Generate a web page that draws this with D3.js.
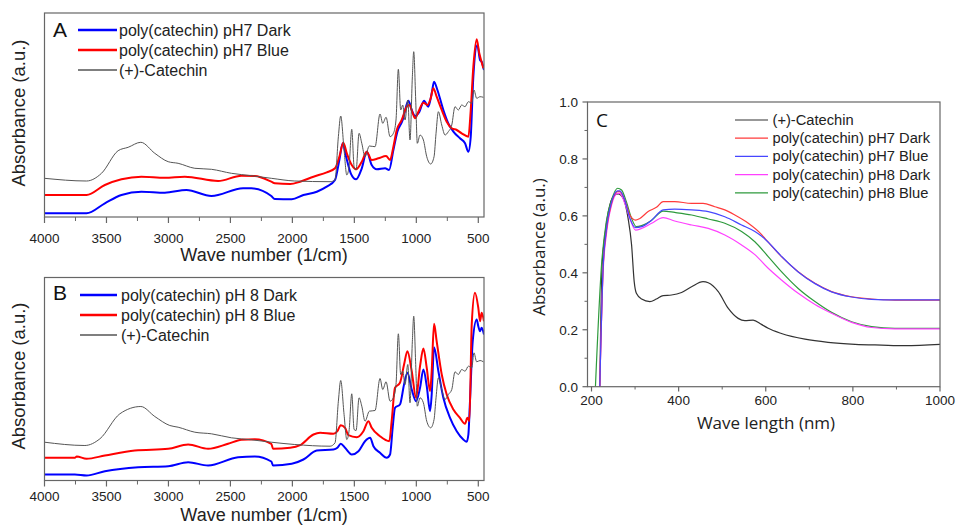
<!DOCTYPE html>
<html>
<head>
<meta charset="utf-8">
<script src="https://cdn.jsdelivr.net/npm/d3@7"></script>
<style>
body{margin:0;background:#fff;}
text{font-family:"Liberation Sans",Arial,sans-serif;}
</style>
</head>
<body>
<svg id="chart" width="957" height="526"></svg>
<script>
// ---- data ----
// FTIR: [wave number 1/cm, absorbance a.u.]
var wnTicks=[4000,3500,3000,2500,2000,1500,1000,500];
var wnMinor=[3750,3250,2750,2250,1750,1250,750];

var catechinA=[[4000,38.7],[3661,36],[3540,43.7],[3406,66.3],[3325,69.7],[3223,74.7],[3110,63.7],[3002,55.3],[2922,53.7],[2787,48.7],[2653,47.7],[2492,43.7],[2331,41.3],[2170,38.7],[1981,36],[1696,35.3],[1656,37],[1629,80.3],[1610,101],[1583,67],[1561,42],[1543,50.3],[1521,87.7],[1502,50.3],[1486,47],[1462,83.7],[1440,73.7],[1414,60.3],[1379,71],[1333,70.3],[1293,103],[1271,93.7],[1244,99.7],[1212,80.3],[1185,83.7],[1164,97],[1145,147.7],[1126,107],[1110,112],[1091,97],[1069,117],[1051,77],[1032,140.3],[1021,165.3],[1005,117],[992,73.7],[970,82],[943,77],[916,60.3],[884,53],[857,60.3],[841,83.7],[822,105.3],[795,92],[768,82],[742,85.3],[714,92],[688,110.3],[661,107],[634,112],[607,110.3],[580,115.3],[553,113.7],[535,127],[513,118.7],[486,120.3],[459,119.7]];
var pH7BlueA=[[4000,22],[3661,22],[3513,32],[3379,37.7],[3218,40.3],[3029,39.3],[2868,40.3],[2599,36],[2411,41.3],[2303,41],[2170,35.3],[2142,33.7],[2018,33],[1938,35.3],[1830,40.3],[1723,44.7],[1656,48.7],[1621,60.3],[1589,74.3],[1561,63.7],[1521,52],[1486,47.7],[1440,55.3],[1400,65.3],[1360,57],[1306,58.7],[1244,61],[1212,57],[1185,70.3],[1158,87],[1118,97],[1077,110.3],[1056,112],[1029,103.7],[1010,98.7],[983,105.3],[943,114.3],[911,112],[884,118.7],[863,128.7],[836,120.3],[795,107],[755,95.3],[714,88.7],[674,87],[634,83.7],[580,80.3],[561,107],[540,150.3],[513,177.7],[492,163.7],[478,157],[459,148.7]];
var pH7DarkA=[[4000,3.7],[3661,3.7],[3513,13.7],[3379,22],[3218,25.3],[3029,24.3],[2855,27],[2653,21],[2398,28.7],[2331,28.7],[2170,21],[2142,18],[2005,17.7],[1911,22],[1803,25.3],[1723,30.3],[1656,37],[1621,57],[1594,73.7],[1567,60.3],[1529,43.7],[1486,37.7],[1440,48.7],[1400,65.3],[1360,52],[1319,47.7],[1252,48.7],[1220,47],[1185,67],[1153,85.3],[1110,97],[1083,110.3],[1064,116.3],[1037,107],[1010,101],[975,105.3],[938,116.3],[903,110.3],[876,123.7],[857,135.3],[830,127],[782,107],[742,93.7],[701,85.3],[648,78.7],[607,73.7],[580,65.3],[561,80.3],[540,140.3],[508,172],[486,157],[473,155.3],[454,147]];

var catechinB=[[4000,38.3],[3674,35],[3553,41.7],[3392,66.7],[3223,74],[3110,64],[2989,55],[2922,53.3],[2787,48.3],[2653,46.7],[2492,42.7],[2331,40.7],[2170,38.3],[1981,36],[1696,34.3],[1656,37.7],[1629,79.3],[1610,100],[1583,66],[1561,41],[1543,49.3],[1521,86.7],[1502,51],[1486,50],[1462,82.7],[1440,74.3],[1414,59.3],[1379,69.3],[1333,70],[1293,102],[1271,91],[1244,98.7],[1212,79.3],[1185,82.7],[1164,96],[1145,146.7],[1126,106],[1110,109.3],[1091,96],[1069,116],[1051,77.7],[1032,139.3],[1021,164.3],[1005,116],[992,74.3],[970,82.7],[943,77.7],[916,59.3],[884,52.7],[857,61],[841,82.7],[822,102.7],[795,91],[768,81],[742,86],[714,91],[688,108.7],[661,106],[634,111],[607,109.3],[580,114.3],[553,112.7],[535,127.7],[513,118.7],[486,120],[459,118.7]];
var pH8BlueB=[[4000,22.7],[3755,22.7],[3740,24],[3661,21.7],[3513,25],[3271,30],[3002,31.7],[2841,36],[2680,31.7],[2519,36.7],[2411,40.7],[2303,41.3],[2170,36.7],[2156,31.7],[2018,32.7],[1938,35.3],[1830,46],[1776,47.7],[1669,46.7],[1637,49.3],[1610,55.3],[1575,52.7],[1548,45.3],[1481,43.3],[1427,49.3],[1387,59.3],[1360,52.7],[1293,44.3],[1218,39.3],[1199,59.3],[1172,92.7],[1132,97.7],[1099,116],[1072,129.3],[1037,109.3],[1002,82.7],[970,114.3],[943,132],[916,112.7],[889,89.3],[876,109.3],[857,156.7],[836,139.3],[795,106],[755,86],[701,71],[648,62.7],[607,56.7],[588,62.7],[572,59.3],[553,156],[527,187.7],[500,172.7],[486,159.3],[473,167.7],[454,159.3]];
var pH8DarkB=[[4000,6],[3755,6],[3661,5],[3513,9.3],[3244,13.3],[3002,14.3],[2841,18.3],[2680,15],[2438,23.3],[2303,24],[2170,19],[2156,15],[2005,16.7],[1911,21],[1803,30],[1669,31],[1637,32.7],[1610,36.7],[1575,32.7],[1521,26],[1467,29.3],[1414,39.3],[1373,42.7],[1346,34.3],[1293,27.7],[1239,22.7],[1212,26],[1191,52.7],[1172,72.7],[1132,76],[1099,96],[1072,107.7],[1037,91],[1002,79.3],[970,92.7],[943,111],[916,94.3],[889,69.3],[876,86],[857,133.3],[822,109.3],[782,82.7],[728,62.7],[674,49.3],[621,41],[594,38.7],[580,46],[567,79.3],[545,139.3],[513,161],[500,154.3],[486,149.3],[473,152.7],[454,146]];

// UV-vis: [wave length nm, absorbance]
var wlTicks=[200,400,600,800,1000];
var wlMinor=[300,500,700,900];
var absTicks=[0,0.2,0.4,0.6,0.8,1.0];
var absMinor=[0.1,0.3,0.5,0.7,0.9];

var uvCatechin=[[219,0],[224,0.416],[231,0.533],[242,0.638],[253.5,0.673],[261,0.677],[272.6,0.662],[284,0.591],[292,0.498],[298,0.369],[303,0.328],[315,0.308],[334,0.299],[349,0.308],[364.5,0.320],[383.7,0.322],[406.7,0.331],[429.7,0.351],[456,0.369],[468,0.365],[491,0.334],[514,0.275],[536.7,0.240],[552,0.232],[571,0.234],[590,0.219],[605.6,0.205],[636,0.187],[690,0.167],[743,0.156],[805,0.149],[866,0.146],[919.6,0.144],[1000,0.149]];
var uvPH7Dark=[[219,0],[226.7,0.416],[234,0.545],[246,0.644],[259.7,0.685],[265,0.685],[276.5,0.656],[288,0.603],[301,0.585],[311,0.591],[330,0.615],[349,0.630],[364.5,0.650],[391,0.650],[429.7,0.644],[456,0.644],[483,0.632],[506,0.621],[529,0.603],[560,0.574],[590,0.535],[598,0.521],[636,0.457],[674.5,0.404],[713,0.363],[751,0.334],[797,0.316],[843,0.308],[896.6,0.304],[1000,0.304]];
var uvPH7Blue=[[219,0],[226.7,0.42],[234,0.55],[246,0.648],[259.7,0.688],[265,0.688],[276.5,0.655],[288,0.592],[301,0.559],[315,0.562],[338,0.585],[364.5,0.621],[391,0.624],[430,0.621],[468,0.615],[506,0.597],[544.5,0.568],[575,0.545],[590,0.529],[598,0.519],[636,0.458],[674.5,0.403],[713,0.362],[751,0.333],[797,0.315],[843,0.307],[896.6,0.305],[1000,0.305]];
var uvPH8Dark=[[219,0],[226.7,0.404],[234,0.533],[246,0.638],[260,0.679],[265,0.679],[276.5,0.644],[288,0.591],[301,0.550],[315,0.556],[338,0.574],[364.5,0.594],[391,0.582],[430,0.568],[468,0.556],[506,0.533],[544.5,0.498],[575,0.464],[605.6,0.416],[636,0.375],[674.5,0.328],[713,0.289],[751,0.258],[797,0.226],[843,0.208],[896.6,0.203],[1000,0.203]];
var uvPH8Blue=[[209,0],[223,0.427],[234,0.58],[246,0.656],[260,0.697],[269,0.691],[280,0.650],[292,0.591],[303,0.562],[315,0.566],[338,0.585],[364.5,0.617],[391,0.612],[430,0.603],[468,0.589],[506,0.574],[544.5,0.545],[575,0.509],[605.6,0.457],[636,0.404],[674.5,0.345],[713,0.299],[751,0.261],[797,0.228],[843,0.211],[896.6,0.205],[1000,0.205]];

var svg=d3.select('#chart');
var frameColor='#666';

// ---- FTIR panels A and B ----
function ftirPanel(p){
    var x=d3.scaleLinear().domain([4000,454]).range([44.5,484]);
    var y=d3.scaleLinear().domain([0,p.ymax]).range([p.bottom,p.top]);
    var g=svg.append('g');
    g.append('clipPath').attr('id','clip'+p.letter).append('rect')
        .attr('x',44.5).attr('y',p.top).attr('width',439.5).attr('height',p.bottom-p.top);
    var line=d3.line().x(d=>x(d[0])).y(d=>y(d[1])).curve(d3.curveMonotoneX);
    p.series.forEach(s=>{
        g.append('path').datum(s.data).attr('d',line).attr('clip-path','url(#clip'+p.letter+')')
            .style('fill','none').style('stroke',s.color).style('stroke-width',s.w).style('stroke-linejoin','round');
    });
    g.append('rect').attr('x',44.5).attr('y',p.top).attr('width',439.5).attr('height',p.bottom-p.top)
        .style('fill','none').style('stroke',frameColor).style('stroke-width',1.2);
    g.selectAll('.maj').data(wnTicks).enter().append('line')
        .attr('x1',d=>x(d)).attr('x2',d=>x(d)).attr('y1',p.bottom).attr('y2',p.bottom+6)
        .style('stroke',frameColor).style('stroke-width',1.2);
    g.selectAll('.min').data(wnMinor).enter().append('line')
        .attr('x1',d=>x(d)).attr('x2',d=>x(d)).attr('y1',p.bottom).attr('y2',p.bottom+4)
        .style('stroke',frameColor).style('stroke-width',1);
    g.selectAll('.lab').data(wnTicks).enter().append('text').text(d=>d)
        .attr('x',d=>x(d)).attr('y',p.labelY).attr('text-anchor','middle')
        .style('font-size','13.5px').style('fill','#222');
    g.append('text').text('Wave number (1/cm)').attr('x',264).attr('y',p.titleY)
        .attr('text-anchor','middle').style('font-size','18px').style('fill','#222');
    g.append('text').text('Absorbance (a.u.)').attr('transform','translate(25,'+p.ylabY+') rotate(-90)')
        .attr('text-anchor','middle').style('font-size','18.5px').style('fill','#222');
    g.append('text').text(p.letter).attr('x',53).attr('y',p.letterY)
        .style('font-size','21px').style('fill','#111');
    p.series.forEach((s,i)=>{
        var ly=p.legY+i*20;
        g.append('line').attr('x1',p.legX1).attr('x2',117).attr('y1',ly).attr('y2',ly)
            .style('stroke',s.color).style('stroke-width',s.w+0.5);
        g.append('text').text(s.name).attr('x',p.legX1+41).attr('y',ly+5.5)
            .style('font-size','16px').style('fill','#222');
    });
}

ftirPanel({letter:'A',top:13,bottom:217,ymax:204,labelY:242.5,titleY:261,ylabY:113,letterY:37,legY:30,legX1:78,
    series:[{name:'poly(catechin) pH7 Dark',data:pH7DarkA,color:'#0000ff',w:2},
            {name:'poly(catechin) pH7 Blue',data:pH7BlueA,color:'#ff0000',w:2},
            {name:'(+)-Catechin',data:catechinA,color:'#555',w:1}]});
ftirPanel({letter:'B',top:277.5,bottom:480.5,ymax:203,labelY:501,titleY:521,ylabY:376,letterY:300,legY:295,legX1:80,
    series:[{name:'poly(catechin) pH 8 Dark',data:pH8DarkB,color:'#0000ff',w:2},
            {name:'poly(catechin) pH 8 Blue',data:pH8BlueB,color:'#ff0000',w:2},
            {name:'(+)-Catechin',data:catechinB,color:'#555',w:1}]});

// ---- UV-vis panel C ----
var xc=d3.scaleLinear().domain([190.8,1000]).range([587.5,940]);
var yc=d3.scaleLinear().domain([0,1]).range([386.7,102]);
var gc=svg.append('g');
gc.append('clipPath').attr('id','clipC').append('rect')
    .attr('x',587.5).attr('y',102).attr('width',352.5).attr('height',284.7);
var lineC=d3.line().x(d=>xc(d[0])).y(d=>yc(d[1])).curve(d3.curveMonotoneX);
var uvSeries=[
    {name:'(+)-Catechin',data:uvCatechin,color:'#333'},
    {name:'poly(catechin) pH7 Dark',data:uvPH7Dark,color:'#ff3b3b'},
    {name:'poly(catechin) pH7 Blue',data:uvPH7Blue,color:'#4646ff'},
    {name:'poly(catechin) pH8 Dark',data:uvPH8Dark,color:'#ff40ff'},
    {name:'poly(catechin) pH8 Blue',data:uvPH8Blue,color:'#2e9a3c'}];
[uvSeries[0],uvSeries[4],uvSeries[3],uvSeries[1],uvSeries[2]].forEach(s=>{
    gc.append('path').datum(s.data).attr('d',lineC).attr('clip-path','url(#clipC)')
        .style('fill','none').style('stroke',s.color).style('stroke-width',1.2);
});
gc.append('rect').attr('x',587.5).attr('y',102).attr('width',352.5).attr('height',284.7)
    .style('fill','none').style('stroke',frameColor).style('stroke-width',1.2);
gc.selectAll('.xmaj').data(wlTicks).enter().append('line')
    .attr('x1',d=>xc(d)).attr('x2',d=>xc(d)).attr('y1',386.7).attr('y2',391.5)
    .style('stroke',frameColor).style('stroke-width',1.2);
gc.selectAll('.xmin').data(wlMinor).enter().append('line')
    .attr('x1',d=>xc(d)).attr('x2',d=>xc(d)).attr('y1',386.7).attr('y2',389.5)
    .style('stroke',frameColor).style('stroke-width',1);
gc.selectAll('.ymaj').data(absTicks).enter().append('line')
    .attr('x1',582.5).attr('x2',587.5).attr('y1',d=>yc(d)).attr('y2',d=>yc(d))
    .style('stroke',frameColor).style('stroke-width',1.2);
gc.selectAll('.ymin').data(absMinor).enter().append('line')
    .attr('x1',584.5).attr('x2',587.5).attr('y1',d=>yc(d)).attr('y2',d=>yc(d))
    .style('stroke',frameColor).style('stroke-width',1);
gc.selectAll('.xlab').data(wlTicks).enter().append('text').text(d=>d)
    .attr('x',d=>xc(d)).attr('y',405).attr('text-anchor','middle')
    .style('font-size','13.5px').style('fill','#222');
gc.selectAll('.ylab').data(absTicks).enter().append('text').text(d=>d3.format('.1f')(d))
    .attr('x',578).attr('y',d=>yc(d)+5).attr('text-anchor','end')
    .style('font-size','13.5px').style('fill','#222');
gc.append('text').text('Wave length (nm)').attr('x',766).attr('y',429).attr('text-anchor','middle')
    .style('font-family','"Open Sans",sans-serif').style('font-size','17px').style('fill','#222');
gc.append('text').text('Absorbance (a.u.)').attr('transform','translate(545,247) rotate(-90)')
    .attr('text-anchor','middle').style('font-family','"Open Sans",sans-serif').style('font-size','17px').style('fill','#222');
gc.append('text').text('C').attr('x',596).attr('y',127)
    .style('font-family','"Open Sans",sans-serif').style('font-size','19px').style('fill','#111');
uvSeries.forEach((s,i)=>{
    var ly=120+i*18.2;
    gc.append('line').attr('x1',735).attr('x2',768).attr('y1',ly).attr('y2',ly)
        .style('stroke',s.color).style('stroke-width',1.2);
    gc.append('text').text(s.name).attr('x',772.5).attr('y',ly+5)
        .style('font-size','14.7px').style('fill','#222');
});
</script>
</body>
</html>
